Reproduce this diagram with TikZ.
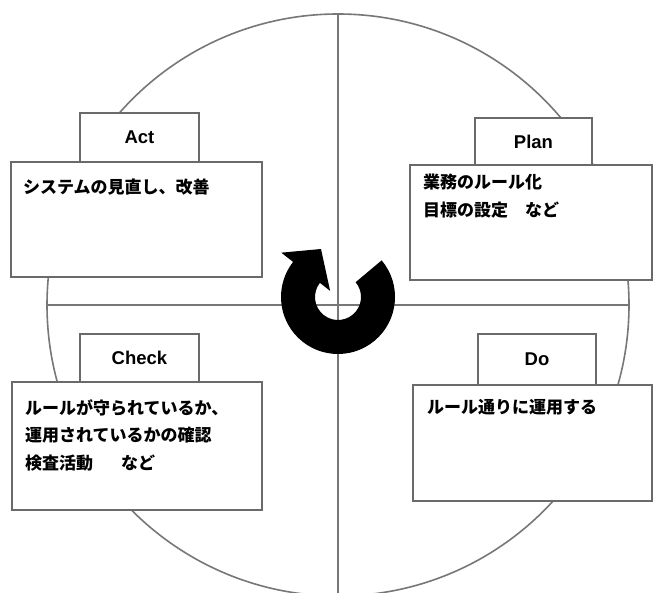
\documentclass[tikz,border=0pt]{standalone}
\usepackage{fontspec}
\setmainfont{Liberation Sans}
\newfontfamily\jp{Noto Sans CJK JP}
\definecolor{linegray}{HTML}{777777}
\definecolor{boxgray}{HTML}{6A6A6A}
\begin{document}
\begin{tikzpicture}[x=1pt,y=1pt,
  guide/.style={draw=linegray, line width=1.6pt},
  frame/.style={draw=boxgray, line width=1.8pt, fill=white, inner sep=0pt},
  tag/.style={frame, font=\bfseries\fontsize{18.5}{22}\selectfont},
  body/.style={inner sep=0pt, anchor=north west, align=left,
    font=\jp\bfseries\fontsize{17}{27.5}\selectfont}]
\useasboundingbox (0,0) rectangle (658,592);
\fill[white] (0,0) rectangle (658,592);
\coordinate (c) at (338,287);
% circle and cross
\draw[guide] (c) circle[radius=291];
\draw[guide] (c) ++(0,291) -- ++(0,-582);
\draw[guide] (c) ++(-291,0) -- ++(582,0);
% Act
\node[frame, minimum width=251pt, minimum height=115pt] (actbox) at (136.5,372.5) {};
\node[tag, minimum width=119pt, minimum height=49pt] (act) at (139.5,454.5) {Act};
\node[body] (acttext) at (23,413) {システムの見直し、改善};
% Plan
\node[frame, minimum width=242pt, minimum height=115pt] (planbox) at (531,369.5) {};
\node[tag, minimum width=117pt, minimum height=47pt] (plan) at (533.5,450.5) {Plan};
\node[body] (plantext) at (423,418) {業務のルール化\\目標の設定　など};
% Check
\node[frame, minimum width=250pt, minimum height=128pt] (checkbox) at (137,146) {};
\node[tag, minimum width=119pt, minimum height=48pt] (check) at (139.5,234) {Check};
\node[body] (checktext) at (25,193) {ルールが守られているか、\\運用されているかの確認\\検査活動\hspace{28pt}など};
% Do
\node[frame, minimum width=239pt, minimum height=116pt] (dobox) at (532.5,149) {};
\node[tag, minimum width=118pt, minimum height=51pt] (do) at (537,232.5) {Do};
\node[body] (dotext) at (427,193) {ルール通りに運用する};
% central cycle arrow
\fill[black, shift={(338,295)}]
  (40:57) arc[start angle=40, end angle=-218, radius=57]
  -- (142:72) -- (-17,48) -- (142:10) -- (142:23)
  arc[start angle=142, end angle=400, radius=23] -- cycle;
\end{tikzpicture}
\end{document}
